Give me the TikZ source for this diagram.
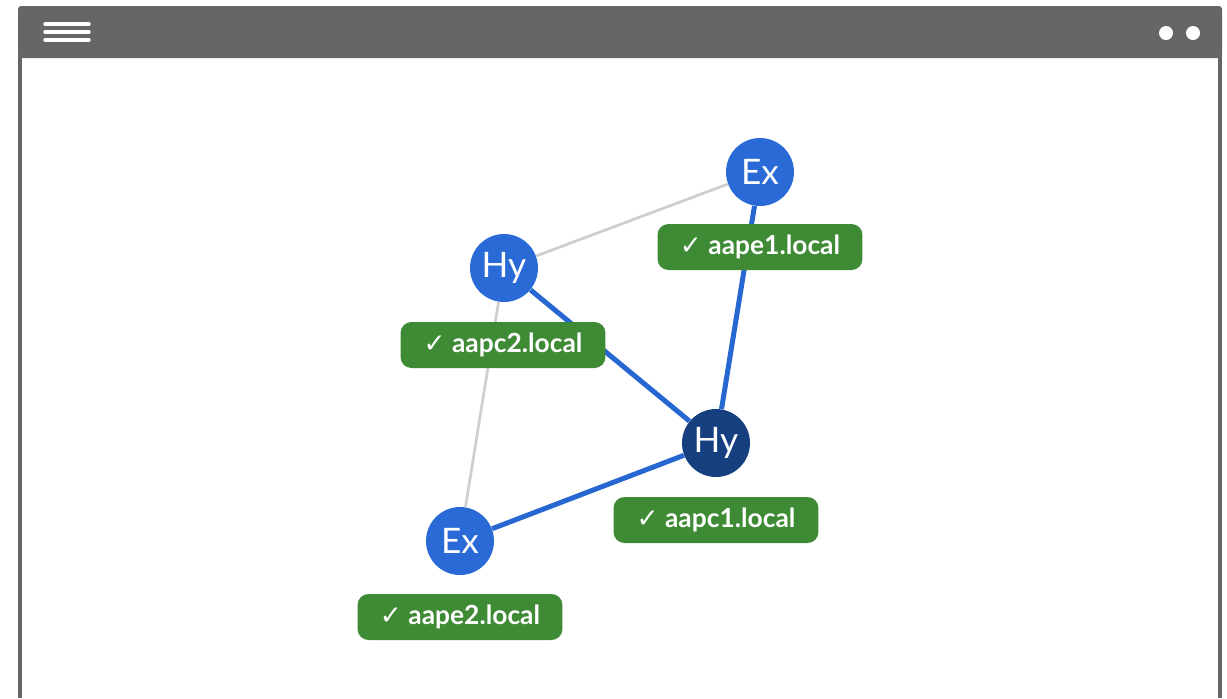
\documentclass[tikz,border=0pt]{standalone}
\usepackage{fontspec}
\setmainfont{Lato}
\newfontfamily\symfont{DejaVu Sans}
\usetikzlibrary{positioning}

\begin{document}
\begin{tikzpicture}[x=0.02cm, y=-0.02cm,
    host/.style={circle, fill=hostBlue, minimum size=1.36cm, inner sep=0pt,
        text=white, font=\fontsize{20}{20}\selectfont},
    hostlabel/.style={rectangle, rounded corners=0.22cm, fill=okGreen, text=white,
        minimum height=0.92cm, minimum width=4.1cm, font=\fontsize{15}{15}\selectfont\bfseries},
    link/.style={line width=0.1cm, draw=linkBlue},
    weak/.style={line width=0.055cm, draw=linkGray}]

    \definecolor{frameGrey}{HTML}{666666}
    \definecolor{hostBlue}{HTML}{2A6AD6}
    \definecolor{hostDark}{HTML}{163F80}
    \definecolor{okGreen}{HTML}{3E8A35}
    \definecolor{linkBlue}{HTML}{2767D1}
    \definecolor{linkGray}{HTML}{CFCFCF}

    % Fix the page size
    \useasboundingbox (0,0) rectangle (1227,698);

    % Draw window frame
    \fill[frameGrey, rounded corners=0.06cm] (18,6) rectangle (1222,58);
    \draw[frameGrey, line width=0.08cm] (20,56) -- (20,698);
    \draw[frameGrey, line width=0.08cm] (1220,56) -- (1220,698);

    % Menu icon and dots
    \foreach \y in {24,32,40}
        \draw[white, line width=0.07cm, line cap=round] (45,\y) -- (89,\y);
    \foreach \x in {1166,1193}
        \fill[white] (\x,33) circle (0.14cm);

    % Place the hosts
    \node[host] (ex1) at (760,172) {Ex};
    \node[host] (hy2) at (504,268) {Hy};
    \node[host, fill=hostDark] (hy1) at (716,443) {Hy};
    \node[host] (ex2) at (460,541) {Ex};

    % Draw the links
    \draw[weak] (hy2) -- (ex1);
    \draw[weak] (hy2) -- (ex2);
    \draw[link] (hy2) -- (hy1);
    \draw[link] (ex1) -- (hy1);
    \draw[link] (ex2) -- (hy1);

    % Host labels
    \node[hostlabel] (ex1lbl) at (760,247) {{\symfont ✓} aape1.local};
    \node[hostlabel] (hy2lbl) at (503,345) {{\symfont ✓} aapc2.local};
    \node[hostlabel] (hy1lbl) at (716,520) {{\symfont ✓} aapc1.local};
    \node[hostlabel] (ex2lbl) at (460,617) {{\symfont ✓} aape2.local};

\end{tikzpicture}
\end{document}
